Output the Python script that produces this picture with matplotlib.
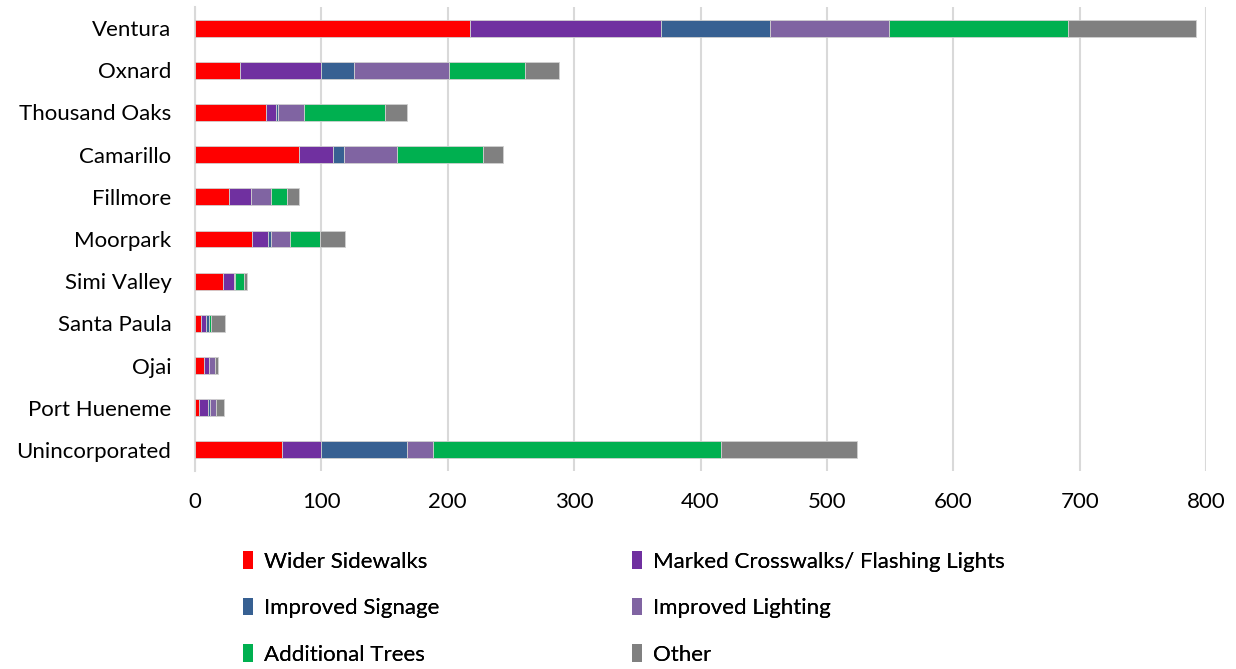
import numpy as np
import matplotlib.pyplot as plt
from matplotlib.patches import Patch

# data
cities = ["Ventura", "Oxnard", "Thousand Oaks", "Camarillo", "Fillmore", "Moorpark",
          "Simi Valley", "Santa Paula", "Ojai", "Port Hueneme", "Unincorporated"]
wider_sidewalks = [218, 36, 56, 82, 27, 45, 22, 5, 7, 3, 69]
marked_crosswalks = [151, 64, 8, 27, 17, 13, 9, 4, 4, 7, 31]
improved_signage = [86, 26, 2, 9, 0, 2, 0, 2, 0, 2, 68]
improved_lighting = [94, 75, 20, 42, 16, 15, 1, 0, 5, 5, 20]
additional_trees = [142, 60, 64, 68, 13, 24, 7, 2, 0, 0, 228]
other = [101, 27, 18, 16, 9, 20, 2, 11, 2, 6, 108]

series_names = ["Wider Sidewalks", "Marked Crosswalks/ Flashing Lights", "Improved Signage",
                "Improved Lighting", "Additional Trees", "Other"]
colors = ["#FF0000", "#7030A0", "#376092", "#8064A2", "#00B050", "#808080"]

plt.rcParams['font.family'] = ['Lato', 'DejaVu Sans']
FS = 16

fig = plt.figure(figsize=(12.36, 6.69), dpi=100)
ax = fig.add_axes([195 / 1236, 1 - 471 / 669, (1206 - 195) / 1236, (471 - 7) / 669])

y = np.arange(len(cities))
left = np.zeros(len(cities))
all_series = [wider_sidewalks, marked_crosswalks, improved_signage,
              improved_lighting, additional_trees, other]
for vals, name, col in zip(all_series, series_names, colors):
    vals = np.array(vals, dtype=float)
    ax.barh(y, vals, left=left, height=0.4, color=col, edgecolor='#D0D0D0',
            linewidth=0.6, label=name, zorder=3)
    left += vals

ax.set_ylim(len(cities) - 0.5, -0.5)
ax.set_xlim(0, 800)
ax.set_xticks(np.arange(0, 801, 100))
ax.set_yticks(y)
ax.set_yticklabels(cities)
ax.tick_params(axis='both', length=0, labelsize=FS, colors='black')
ax.tick_params(axis='x', pad=15)
ax.tick_params(axis='y', pad=17)
ax.grid(axis='x', color='#D9D9D9', linewidth=1.5, zorder=0)
for s in ['top', 'right', 'bottom']:
    ax.spines[s].set_visible(False)
ax.spines['left'].set_color('#D9D9D9')
ax.spines['left'].set_linewidth(1.5)

# legend: two columns placed by hand, row-major order like the reference
handles = [Patch(facecolor=c, edgecolor='none') for c in colors]
col_x = [243 / 1236, 632 / 1236]
for k in range(2):
    idx = [k, k + 2, k + 4]
    leg = fig.legend([handles[i] for i in idx], [series_names[i] for i in idx],
                     loc='upper left', bbox_to_anchor=(col_x[k], 1 - 551 / 669),
                     frameon=False, fontsize=FS, borderpad=0, borderaxespad=0,
                     handlelength=0.45, handleheight=0.85, handletextpad=0.5,
                     labelspacing=1.17)
    fig.add_artist(leg)

fig.savefig("out.png", dpi=100)
